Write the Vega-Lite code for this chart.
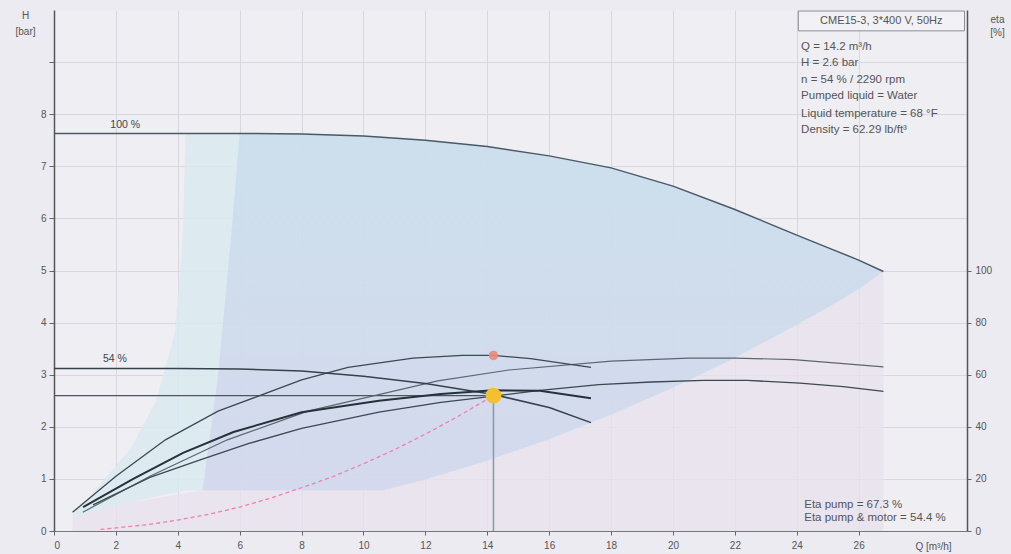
{
  "$schema": "https://vega.github.io/schema/vega-lite/v6.json",
  "width": 913,
  "height": 521,
  "autosize": "none",
  "padding": {"left": 54, "top": 10, "right": 44, "bottom": 23},
  "background": "#ecebf1",
  "config": {
    "view": {"fill": "#efeef3", "stroke": null},
    "font": "Liberation Sans",
    "axis": {"labelFont": "Liberation Sans", "titleFont": "Liberation Sans", "labelFontSize": 10, "labelColor": "#555", "titleColor": "#555", "titleFontWeight": "normal", "titleFontSize": 10, "tickColor": "#666", "gridColor": "#d8d7e0", "gridWidth": 1}
  },
  "datasets": {
    "h100": [{"Q":0,"H":7.63},{"Q":2,"H":7.63},{"Q":4,"H":7.63},{"Q":6,"H":7.63},{"Q":8,"H":7.62},{"Q":10,"H":7.58},{"Q":12,"H":7.5},{"Q":14,"H":7.38},{"Q":16,"H":7.2},{"Q":18,"H":6.97},{"Q":20,"H":6.62},{"Q":22,"H":6.17},{"Q":24,"H":5.68},{"Q":25,"H":5.44},{"Q":26,"H":5.2},{"Q":26.8,"H":4.98}],
    "h54": [{"Q":0,"H":3.12},{"Q":4,"H":3.12},{"Q":6,"H":3.11},{"Q":8,"H":3.07},{"Q":10,"H":2.97},{"Q":12,"H":2.83},{"Q":14.2,"H":2.62},{"Q":16,"H":2.37},{"Q":17.35,"H":2.08}],
    "e1": [{"Q":0.6,"H":0.36},{"Q":2,"H":1.05},{"Q":3.6,"H":1.75},{"Q":5.3,"H":2.3},{"Q":8,"H":2.9},{"Q":9.5,"H":3.14},{"Q":11.6,"H":3.32},{"Q":13.2,"H":3.37},{"Q":14.2,"H":3.37},{"Q":15.4,"H":3.31},{"Q":17.35,"H":3.14}],
    "e2": [{"Q":0.94,"H":0.46},{"Q":2.56,"H":1.0},{"Q":4.17,"H":1.5},{"Q":5.8,"H":1.9},{"Q":8,"H":2.28},{"Q":10.5,"H":2.5},{"Q":12.5,"H":2.63},{"Q":14.2,"H":2.7},{"Q":15.7,"H":2.69},{"Q":17.35,"H":2.55}],
    "e3": [{"Q":1.26,"H":0.5},{"Q":3.1,"H":1.03},{"Q":4.7,"H":1.36},{"Q":6.3,"H":1.68},{"Q":8,"H":1.97},{"Q":10.5,"H":2.28},{"Q":12.5,"H":2.47},{"Q":13.8,"H":2.56},{"Q":15.7,"H":2.7},{"Q":17.6,"H":2.81},{"Q":19.3,"H":2.86},{"Q":21,"H":2.89},{"Q":22.4,"H":2.89},{"Q":24.1,"H":2.84},{"Q":25.5,"H":2.77},{"Q":26.8,"H":2.68}],
    "e4": [{"Q":0.93,"H":0.36},{"Q":3.1,"H":1.05},{"Q":5.6,"H":1.75},{"Q":8.2,"H":2.3},{"Q":12.4,"H":2.88},{"Q":14.7,"H":3.09},{"Q":18,"H":3.26},{"Q":20.5,"H":3.32},{"Q":22,"H":3.32},{"Q":23.9,"H":3.29},{"Q":26.8,"H":3.15}],
    "sys": [{"Q":1.5,"H":0.03},{"Q":3,"H":0.12},{"Q":4,"H":0.21},{"Q":5,"H":0.32},{"Q":6,"H":0.46},{"Q":7,"H":0.63},{"Q":8,"H":0.83},{"Q":9,"H":1.04},{"Q":10,"H":1.29},{"Q":11,"H":1.56},{"Q":12,"H":1.86},{"Q":13,"H":2.18},{"Q":14.2,"H":2.6}],
    "wedge": [{"Q":0.55,"H":0.28,"B":0.28},{"Q":1.5,"H":0.9,"B":0.4},{"Q":2.5,"H":1.6,"B":0.55},{"Q":3.3,"H":2.5,"B":0.66},{"Q":3.9,"H":3.8,"B":0.74},{"Q":4.15,"H":5.5,"B":0.77},{"Q":4.25,"H":7.63,"B":0.78},{"Q":6,"H":7.63,"B":0.78},{"Q":8,"H":7.62,"B":0.78},{"Q":10,"H":7.58,"B":0.78},{"Q":10.66,"H":7.56,"B":0.78},{"Q":12,"H":7.5,"B":0.99},{"Q":14,"H":7.38,"B":1.35},{"Q":16,"H":7.2,"B":1.76},{"Q":18,"H":6.97,"B":2.23},{"Q":20,"H":6.62,"B":2.75},{"Q":22,"H":6.17,"B":3.32},{"Q":24,"H":5.68,"B":3.96},{"Q":25,"H":5.44,"B":4.29},{"Q":26,"H":5.2,"B":4.64},{"Q":26.8,"H":4.98,"B":4.98}],
    "blue": [{"Q":4.8,"H":0.78,"B":0.78},{"Q":5.3,"H":3.0,"B":0.78},{"Q":5.7,"H":5.5,"B":0.78},{"Q":6,"H":7.63,"B":0.78},{"Q":8,"H":7.62,"B":0.78},{"Q":10,"H":7.58,"B":0.78},{"Q":10.66,"H":7.56,"B":0.78},{"Q":12,"H":7.5,"B":0.99},{"Q":14,"H":7.38,"B":1.35},{"Q":16,"H":7.2,"B":1.76},{"Q":18,"H":6.97,"B":2.23},{"Q":20,"H":6.62,"B":2.75},{"Q":22,"H":6.17,"B":3.32},{"Q":24,"H":5.68,"B":3.96},{"Q":25,"H":5.44,"B":4.29},{"Q":26,"H":5.2,"B":4.64},{"Q":26.8,"H":4.98,"B":4.98}],
    "band": [{"Q":0.6,"H":0.28,"B":0},{"Q":2.5,"H":0.55,"B":0},{"Q":4.8,"H":0.78,"B":0},{"Q":10.66,"H":0.78,"B":0},{"Q":12,"H":0.99,"B":0},{"Q":14,"H":1.35,"B":0},{"Q":16,"H":1.76,"B":0},{"Q":18,"H":2.23,"B":0},{"Q":20,"H":2.75,"B":0},{"Q":22,"H":3.32,"B":0},{"Q":24,"H":3.96,"B":0},{"Q":26,"H":4.64,"B":0},{"Q":26.8,"H":4.98,"B":0}],
    "dutyH": [{"Q":0,"Q2":14.2,"H":2.6}],
    "dutyV": [{"Q":14.2,"H":0,"H2":2.6}],
    "duty": [{"Q":14.2,"H":2.6}],
    "etaPt": [{"Q":14.2,"H":3.37}],
    "box": [{"Q":24.05,"Q2":29.42,"H":9.6,"H2":9.98}],
    "boxText": [{"Q":26.73,"H":9.79,"t":"CME15-3, 3*400 V, 50Hz"}],
    "info": [
      {"Q":24.14,"H":9.29,"t":"Q = 14.2 m³/h"},
      {"Q":24.14,"H":8.99,"t":"H = 2.6 bar"},
      {"Q":24.14,"H":8.66,"t":"n = 54 % / 2290 rpm"},
      {"Q":24.14,"H":8.34,"t":"Pumped liquid = Water"},
      {"Q":24.14,"H":8.01,"t":"Liquid temperature = 68 °F"},
      {"Q":24.14,"H":7.69,"t":"Density = 62.29 lb/ft³"},
      {"Q":24.24,"H":0.5,"t":"Eta pump = 67.3 %"},
      {"Q":24.24,"H":0.25,"t":"Eta pump & motor = 54.4 %"}
    ],
    "curveLbl": [{"Q":2.3,"H":7.8,"t":"100 %"},{"Q":1.97,"H":3.31,"t":"54 %"}],
    "etaAxis": [{"eta":0},{"eta":200}]
  },
  "layer": [
    {
      "layer": [
        {
          "data": {"name": "band"},
          "mark": {"type": "area", "color": "#e8e1ee", "opacity": 0.8},
          "encoding": {
            "x": {"field": "Q", "type": "quantitative", "scale": {"domain": [0, 29.5], "nice": false, "zero": false},
              "axis": {"values": [0,2,4,6,8,10,12,14,16,18,20,22,24,26], "title": "Q [m³/h]", "titleX": 879, "titleY": 10, "titleAlign": "center", "titleBaseline": "top", "tickSize": 4, "labelPadding": 5, "domainColor": "#777", "domainWidth": 1}},
            "y": {"field": "H", "type": "quantitative", "scale": {"domain": [0, 10], "nice": false},
              "axis": {"values": [0,1,2,3,4,5,6,7,8,9], "labelExpr": "datum.value <= 8 ? datum.label : ''", "title": ["H", "[bar]"], "titleAngle": 0, "titleX": -29, "titleY": 0, "titleAlign": "center", "titleBaseline": "top", "titleLineHeight": 16, "tickSize": 5, "labelPadding": 3, "domainColor": "#555", "domainWidth": 1.5}},
            "y2": {"field": "B"}
          }
        },
        {
          "data": {"name": "wedge"},
          "mark": {"type": "area", "color": "#d9eaf0", "opacity": 0.85},
          "encoding": {"x": {"field": "Q", "type": "quantitative"}, "y": {"field": "H", "type": "quantitative"}, "y2": {"field": "B"}}
        },
        {
          "data": {"name": "blue"},
          "mark": {"type": "area", "opacity": 0.85, "color": {"gradient": "linear", "x1": 0, "y1": 0, "x2": 0, "y2": 1, "stops": [{"offset": 0, "color": "#c9ddeb"}, {"offset": 1, "color": "#d3d6ec"}]}},
          "encoding": {"x": {"field": "Q", "type": "quantitative"}, "y": {"field": "H", "type": "quantitative"}, "y2": {"field": "B"}}
        },
        {
          "data": {"name": "sys"},
          "mark": {"type": "line", "color": "#ef7fb4", "strokeWidth": 1.3, "strokeDash": [4, 3]},
          "encoding": {"x": {"field": "Q", "type": "quantitative"}, "y": {"field": "H", "type": "quantitative"}}
        },
        {
          "data": {"name": "dutyH"},
          "mark": {"type": "rule", "color": "#4d5560", "strokeWidth": 1.2},
          "encoding": {"x": {"field": "Q", "type": "quantitative"}, "x2": {"field": "Q2"}, "y": {"field": "H", "type": "quantitative"}}
        },
        {
          "data": {"name": "dutyV"},
          "mark": {"type": "rule", "color": "#8a98aa", "strokeWidth": 1.5},
          "encoding": {"x": {"field": "Q", "type": "quantitative"}, "y": {"field": "H", "type": "quantitative"}, "y2": {"field": "H2"}}
        },
        {
          "data": {"name": "h100"},
          "mark": {"type": "line", "color": "#4a5966", "strokeWidth": 1.5},
          "encoding": {"x": {"field": "Q", "type": "quantitative"}, "y": {"field": "H", "type": "quantitative"}}
        },
        {
          "data": {"name": "e4"},
          "mark": {"type": "line", "color": "#5a6670", "strokeWidth": 1.2},
          "encoding": {"x": {"field": "Q", "type": "quantitative"}, "y": {"field": "H", "type": "quantitative"}}
        },
        {
          "data": {"name": "e3"},
          "mark": {"type": "line", "color": "#3c4852", "strokeWidth": 1.3},
          "encoding": {"x": {"field": "Q", "type": "quantitative"}, "y": {"field": "H", "type": "quantitative"}}
        },
        {
          "data": {"name": "e1"},
          "mark": {"type": "line", "color": "#3c4852", "strokeWidth": 1.3},
          "encoding": {"x": {"field": "Q", "type": "quantitative"}, "y": {"field": "H", "type": "quantitative"}}
        },
        {
          "data": {"name": "h54"},
          "mark": {"type": "line", "color": "#34424c", "strokeWidth": 1.5},
          "encoding": {"x": {"field": "Q", "type": "quantitative"}, "y": {"field": "H", "type": "quantitative"}}
        },
        {
          "data": {"name": "e2"},
          "mark": {"type": "line", "color": "#25323b", "strokeWidth": 2},
          "encoding": {"x": {"field": "Q", "type": "quantitative"}, "y": {"field": "H", "type": "quantitative"}}
        },
        {
          "data": {"name": "etaPt"},
          "mark": {"type": "point", "filled": true, "color": "#e98a78", "size": 90, "opacity": 0.9},
          "encoding": {"x": {"field": "Q", "type": "quantitative"}, "y": {"field": "H", "type": "quantitative"}}
        },
        {
          "data": {"name": "duty"},
          "mark": {"type": "point", "filled": true, "color": "#f5c030", "size": 250, "opacity": 1},
          "encoding": {"x": {"field": "Q", "type": "quantitative"}, "y": {"field": "H", "type": "quantitative"}}
        },
        {
          "data": {"name": "box"},
          "mark": {"type": "rect", "fill": "#f2f1f5", "stroke": "#8c8c94", "strokeWidth": 1},
          "encoding": {"x": {"field": "Q", "type": "quantitative"}, "x2": {"field": "Q2"}, "y": {"field": "H", "type": "quantitative"}, "y2": {"field": "H2"}}
        },
        {
          "data": {"name": "boxText"},
          "mark": {"type": "text", "fontSize": 11, "color": "#555", "align": "center", "baseline": "middle"},
          "encoding": {"x": {"field": "Q", "type": "quantitative"}, "y": {"field": "H", "type": "quantitative"}, "text": {"field": "t"}}
        },
        {
          "data": {"name": "info"},
          "mark": {"type": "text", "fontSize": 11.5, "color": "#555", "align": "left", "baseline": "middle"},
          "encoding": {"x": {"field": "Q", "type": "quantitative"}, "y": {"field": "H", "type": "quantitative"}, "text": {"field": "t"}}
        },
        {
          "data": {"name": "curveLbl"},
          "mark": {"type": "text", "fontSize": 10.5, "color": "#444", "align": "center", "baseline": "middle"},
          "encoding": {"x": {"field": "Q", "type": "quantitative"}, "y": {"field": "H", "type": "quantitative"}, "text": {"field": "t"}}
        }
      ]
    },
    {
      "data": {"name": "etaAxis"},
      "mark": {"type": "point", "opacity": 0},
      "encoding": {
        "y": {"field": "eta", "type": "quantitative", "scale": {"domain": [0, 200], "nice": false},
          "axis": {"orient": "right", "values": [0,20,40,60,80,100], "grid": false, "title": ["eta", "[%]"], "titleAngle": 0, "titleX": 30, "titleY": 4, "titleAlign": "center", "titleBaseline": "top", "titleLineHeight": 13, "tickSize": 4, "labelPadding": 4, "domainColor": "#555", "domainWidth": 1.5}}
      }
    }
  ],
  "resolve": {"scale": {"y": "independent"}, "axis": {"y": "independent"}}
}
